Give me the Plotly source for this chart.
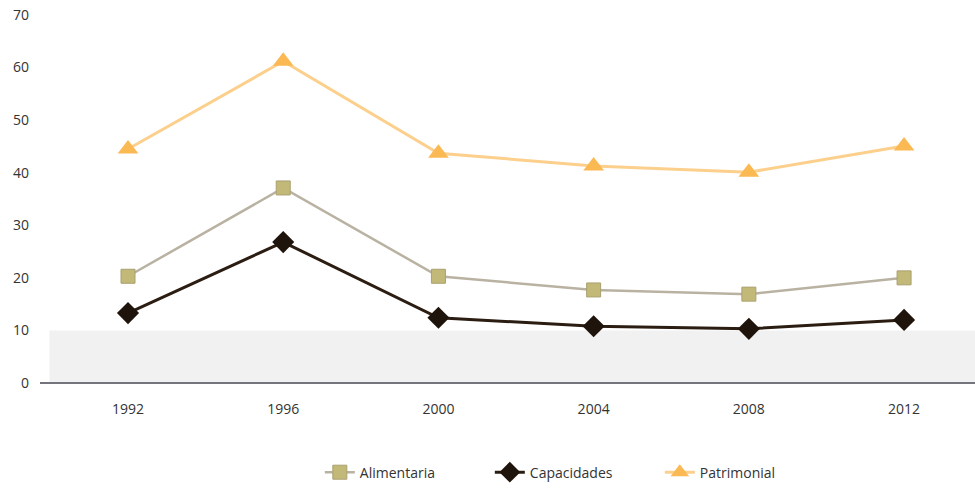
import plotly.graph_objects as go

years = ["1992", "1996", "2000", "2004", "2008", "2012"]
alimentaria = [20.3, 37.1, 20.3, 17.7, 16.9, 20.0]
capacidades = [13.3, 26.8, 12.4, 10.8, 10.3, 12.0]
patrimonial = [44.5, 61.2, 43.7, 41.3, 40.1, 45.1]
y_ticks = [0, 10, 20, 30, 40, 50, 60, 70]

fig = go.Figure()

fig.add_trace(go.Scatter(
    x=years, y=alimentaria, name="Alimentaria", mode="lines+markers",
    line=dict(color="#b9b2a2", width=2.5),
    marker=dict(symbol="square", size=14, color="#c2b877", line=dict(color="#aaa070", width=1)),
))
fig.add_trace(go.Scatter(
    x=years, y=capacidades, name="Capacidades", mode="lines+markers",
    line=dict(color="#2b1d12", width=3),
    marker=dict(symbol="diamond", size=17, color="#1f140c"),
))
fig.add_trace(go.Scatter(
    x=years, y=patrimonial, name="Patrimonial", mode="lines+markers",
    line=dict(color="#fcd08c", width=3),
    marker=dict(symbol="triangle-up", size=18, color="#fbb954"),
))

# faint gray band between 0 and 10
fig.add_shape(type="rect", xref="paper", yref="y", x0=0.01, x1=1, y0=0, y1=10,
              fillcolor="#f1f1f1", line=dict(width=0), layer="below")

fig.update_layout(
    width=975, height=488,
    margin=dict(l=40, r=0, t=15, b=105, autoexpand=False),
    paper_bgcolor="white", plot_bgcolor="white",
    font=dict(family="Open Sans, Noto Sans, sans-serif", size=14, color="#333333"),
    showlegend=True,
    legend=dict(orientation="h", x=0.572, xanchor="center", y=-0.2, yanchor="top",
                font=dict(size=14, color="#333333"),
                entrywidth=125, entrywidthmode="pixels"),
    xaxis=dict(type="category", range=[-0.567, 5.457], showgrid=False,
               showline=False, zeroline=False, ticks="", ticklabelstandoff=16,
               tickfont=dict(size=14, color="#333333")),
    yaxis=dict(range=[0, 70], tickvals=y_ticks, showgrid=False, zeroline=True,
               zerolinecolor="#74747c", zerolinewidth=2, showline=False,
               ticks="", ticklabelstandoff=10,
               tickfont=dict(size=14, color="#333333")),
)

fig.write_html("out.html")
